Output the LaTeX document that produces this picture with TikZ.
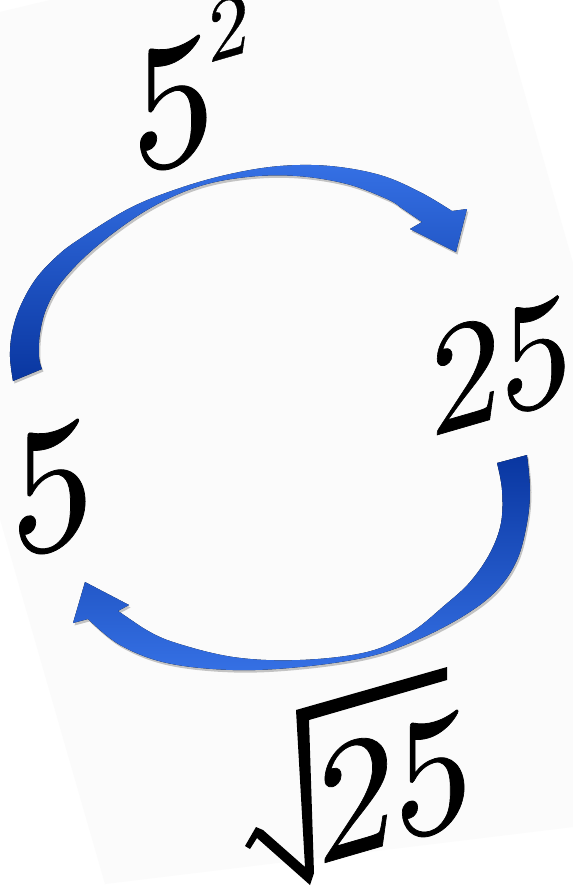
\documentclass[tikz,border=0pt]{standalone}
\usepackage{fontspec}
\newfontfamily\numfont{lmroman10-regular}[Extension=.otf, FakeBold=0.45]
\definecolor{pagebg}{HTML}{FBFBFB}
\definecolor{arrowdark}{HTML}{0936A0}
\definecolor{arrowlight}{HTML}{3570E4}
\begin{document}
\begin{tikzpicture}[x=1pt,y=-1pt,
  numtext/.style={inner sep=0pt, anchor=base west, yslant=0.29, xscale=0.9, text=black},
  arrowshadow/.style={preaction={fill=black, opacity=0.22, transform canvas={shift={(1.5pt,-2.5pt)}}}},
  upperarrow/.style={arrowshadow, top color=arrowlight, bottom color=arrowdark},
  lowerarrow/.style={arrowshadow, top color=arrowdark, bottom color=arrowlight}]
\useasboundingbox (0,0) rectangle (573,887);
\fill[white] (0,0) rectangle (573,887);
% tilted page
\fill[pagebg] (0,12) -- (50,0) -- (498,0) -- (573,263) -- (573,827) -- (105,884) -- (0,519) -- cycle;

% upper curved arrow (5 -> 25)
\fill[upperarrow] plot[smooth, tension=0.6] coordinates {(13,381) (10,357) (12,333) (20,307) (35,280) (55,258) (78,240) (130,208) (180,188) (230,174) (280,166) (330,166) (380,175) (420,192) (452,211)}
  -- (467,209) -- (456,252) -- (410,229) -- (422,222)
  -- plot[smooth, tension=0.6] coordinates {(400,207) (387,199) (347,184) (297,176) (247,177) (197,187) (147,210) (97,246) (63,280) (47,307) (40,333) (39,357) (42,369)} -- cycle;

% lower curved arrow (25 -> 5)
\fill[lowerarrow] plot[smooth, tension=0.6] coordinates {(527,455) (530,490) (527,523) (517,560) (497,590) (465,615) (417,640) (367,657) (300,667) (233,670) (167,663) (120,645) (88,619)}
  -- (73,623) -- (85,582) -- (129,605) -- (118,611)
  -- plot[smooth, tension=0.6] coordinates {(140,626) (170,641) (233,657) (300,660) (367,652) (410,633) (445,605) (470,582) (490,553) (501,523) (502,490) (497,463)} -- cycle;

% texts
\node[numtext, font=\numfont\fontsize{183}{183}\selectfont] (square) at (132,176) {5\kern-7pt\raisebox{91pt}{\fontsize{90}{90}\selectfont 2}};
\node[numtext, font=\numfont\fontsize{157}{157}\selectfont] (twentyfive) at (430,437) {25};
\node[numtext, font=\numfont\fontsize{183}{183}\selectfont] (five) at (11,560) {5};
\node[numtext, font=\numfont\fontsize{172}{172}\selectfont] (radicand) at (317,865) {25};

% radical sign
\fill[black] (245,846) -- (256,827) -- (263,830) -- (305,867) -- (296,710) -- (447,667) -- (447,680) -- (309,720) -- (314,873) -- (310,885) -- (257,838) -- (250,849) -- cycle;
\end{tikzpicture}
\end{document}
